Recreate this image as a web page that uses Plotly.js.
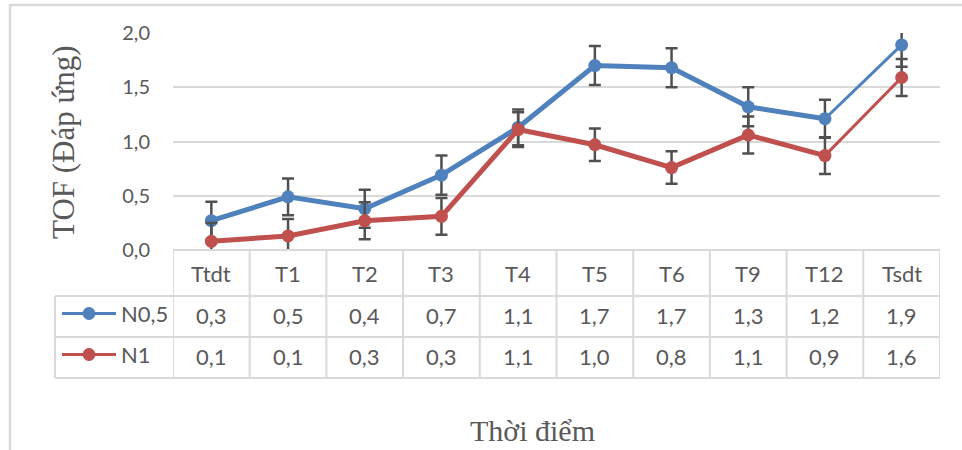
<!DOCTYPE html>
<html>
<head>
<meta charset="utf-8">
<script src="https://cdn.plot.ly/plotly-3.0.1.min.js"></script>
<style>
  html, body { margin: 0; padding: 0; background: #ffffff; }
  #chart { width: 962px; height: 450px; }
</style>
</head>
<body>
<div id="chart"></div>
<script>
// Time points (categories) and the two series with their error margins
const categories = ['Ttdt', 'T1', 'T2', 'T3', 'T4', 'T5', 'T6', 'T9', 'T12', 'Tsdt'];
const seriesNames = ['N0,5', 'N1'];
const n05Values = [0.27, 0.49, 0.38, 0.69, 1.13, 1.70, 1.68, 1.32, 1.21, 1.89];
const n1Values = [0.08, 0.13, 0.27, 0.31, 1.11, 0.97, 0.76, 1.06, 0.87, 1.59];
const n05Errors = [0.175, 0.17, 0.175, 0.18, 0.165, 0.18, 0.18, 0.18, 0.175, 0.2];
const n1Errors = [0.17, 0.155, 0.17, 0.17, 0.16, 0.15, 0.15, 0.17, 0.17, 0.17];
const yTickValues = [0, 0.5, 1.0, 1.5, 2.0];
const yTitle = 'TOF (Đáp ứng)';
const xTitle = 'Thời điểm';

const colors = ['#4f81bd', '#c0504d'];
const seriesValues = [n05Values, n1Values];
const seriesErrors = [n05Errors, n1Errors];

// Page geometry
const W = 962, H = 450;
const M = { l: 173, r: 22, t: 33, b: 72 };
const plotW = W - M.l - M.r;
const plotH = H - M.t - M.b;
const chartBottom = 250;          // pixel row of the 0,0 line
const rowEdges = [250, 296, 337, 378];
const legendLeft = 55;

const px2x = px => (px - M.l) / plotW;
const py2y = py => (H - M.b - py) / plotH;

const fmt = v => v.toFixed(1).replace('.', ',');

const gridColor = '#d9d9d9';
const textColor = '#595959';
const uiFont = 'Lato, "Open Sans", sans-serif';
const serifFont = 'Liberation Serif';

const traces = [];
seriesValues.forEach((vals, s) => {
  const lastIdx = vals.length - 1;
  // thick line through all but the last point
  traces.push({
    type: 'scatter', mode: 'lines',
    x: categories.slice(0, lastIdx), y: vals.slice(0, lastIdx),
    line: { color: colors[s], width: 5 },
    hoverinfo: 'skip', showlegend: false
  });
  // thinner closing segment
  traces.push({
    type: 'scatter', mode: 'lines',
    x: categories.slice(lastIdx - 1), y: vals.slice(lastIdx - 1),
    line: { color: colors[s], width: 3 },
    hoverinfo: 'skip', showlegend: false
  });
});
seriesValues.forEach((vals, s) => {
  traces.push({
    type: 'scatter', mode: 'markers', name: seriesNames[s],
    x: categories, y: vals,
    marker: { color: colors[s], size: 13, symbol: 'circle' },
    error_y: { type: 'data', array: seriesErrors[s], visible: true,
               color: '#505050', thickness: 2.5, width: 6 },
    showlegend: false
  });
});

const shapes = [];
const annotations = [];

// outer chart border
shapes.push({ type: 'rect', xref: 'paper', yref: 'paper', layer: 'below',
  x0: px2x(10), x1: px2x(W + 10), y0: py2y(H + 10), y1: py2y(5),
  line: { color: gridColor, width: 2.5 }, fillcolor: 'rgba(0,0,0,0)' });

// data table: horizontal rules
shapes.push({ type: 'line', xref: 'x', yref: 'paper',
  x0: -0.5, x1: categories.length - 0.5, y0: py2y(rowEdges[0]), y1: py2y(rowEdges[0]),
  line: { color: gridColor, width: 2 } });
for (let r = 1; r < rowEdges.length; r++) {
  shapes.push({ type: 'line', xref: 'paper', yref: 'paper',
    x0: px2x(legendLeft), x1: 1, y0: py2y(rowEdges[r]), y1: py2y(rowEdges[r]),
    line: { color: gridColor, width: 2 } });
}
// vertical rules at category boundaries
for (let k = 0; k <= categories.length; k++) {
  shapes.push({ type: 'line', xref: 'x', yref: 'paper',
    x0: k - 0.5, x1: k - 0.5, y0: py2y(rowEdges[3]), y1: py2y(rowEdges[0]),
    line: { color: gridColor, width: 2 } });
}
// left edge of the legend column
shapes.push({ type: 'line', xref: 'paper', yref: 'paper',
  x0: px2x(legendLeft), x1: px2x(legendLeft), y0: py2y(rowEdges[3]), y1: py2y(rowEdges[1]),
  line: { color: gridColor, width: 2 } });

// header row with category names
const headerY = py2y((rowEdges[0] + rowEdges[1]) / 2);
categories.forEach(c => {
  annotations.push({ xref: 'x', yref: 'paper', x: c, y: headerY, text: c,
    showarrow: false, xanchor: 'center', yanchor: 'middle',
    font: { family: uiFont, size: 22, color: textColor } });
});

// value rows with legend keys
seriesValues.forEach((vals, s) => {
  const rowY = (rowEdges[s + 1] + rowEdges[s + 2]) / 2 - 3;
  vals.forEach((v, i) => {
    annotations.push({ xref: 'x', yref: 'paper', x: categories[i], y: py2y(rowY + 2), text: fmt(v),
      showarrow: false, xanchor: 'center', yanchor: 'middle',
      font: { family: uiFont, size: 22, color: textColor } });
  });
  shapes.push({ type: 'line', xref: 'paper', yref: 'paper',
    x0: px2x(62), x1: px2x(116), y0: py2y(rowY), y1: py2y(rowY),
    line: { color: colors[s], width: 3 } });
  shapes.push({ type: 'circle', xref: 'paper', yref: 'paper',
    x0: px2x(83), x1: px2x(95), y0: py2y(rowY + 6), y1: py2y(rowY - 6),
    line: { color: colors[s], width: 1 }, fillcolor: colors[s] });
  annotations.push({ xref: 'paper', yref: 'paper', x: px2x(119), y: py2y(rowY), text: seriesNames[s],
    showarrow: false, xanchor: 'left', yanchor: 'middle',
    font: { family: uiFont, size: 22, color: textColor } });
});

// axis titles
annotations.push({ xref: 'paper', yref: 'paper', x: px2x(63), y: py2y(142), text: yTitle,
  textangle: -90, showarrow: false, xanchor: 'center', yanchor: 'middle',
  font: { family: serifFont, size: 31, color: textColor } });
annotations.push({ xref: 'paper', yref: 'paper', x: px2x(532), y: py2y(430), text: xTitle,
  showarrow: false, xanchor: 'center', yanchor: 'middle',
  font: { family: serifFont, size: 30, color: textColor } });

const layout = {
  width: W, height: H,
  margin: M,
  paper_bgcolor: '#ffffff', plot_bgcolor: '#ffffff',
  separators: ',.',
  showlegend: false,
  xaxis: {
    type: 'category', categoryarray: categories, range: [-0.5, categories.length - 0.5],
    showticklabels: false, ticks: '', showgrid: false, zeroline: false, showline: false,
    fixedrange: true
  },
  yaxis: {
    domain: [py2y(chartBottom), 1], range: [0, 2],
    tickvals: yTickValues, tickformat: '.1f',
    tickfont: { family: uiFont, size: 20, color: textColor },
    ticklabelstandoff: 22,
    showgrid: true, gridcolor: gridColor, gridwidth: 2,
    zeroline: false, showline: false, ticks: '', fixedrange: true
  },
  shapes: shapes,
  annotations: annotations
};

Plotly.newPlot('chart', traces, layout, { staticPlot: true, displayModeBar: false });
</script>
</body>
</html>
